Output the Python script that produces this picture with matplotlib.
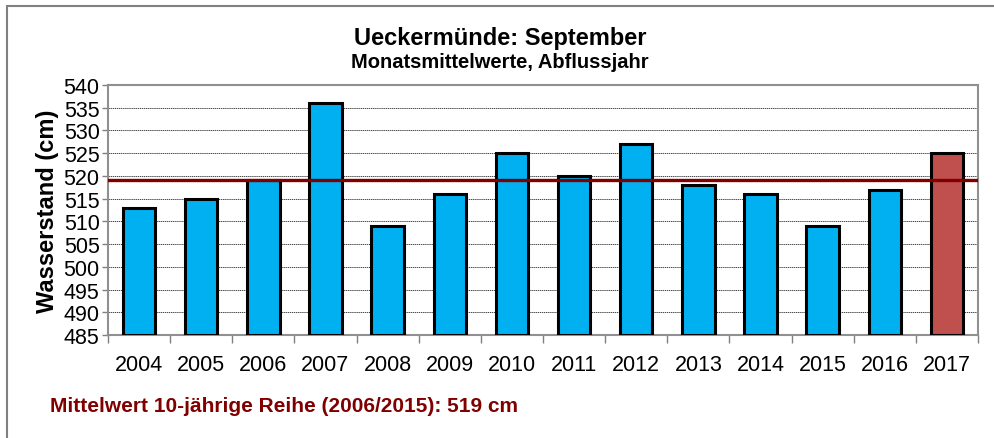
import matplotlib
import matplotlib.pyplot as plt
from matplotlib.patches import Rectangle
matplotlib.use('Agg')

years = ["2004", "2005", "2006", "2007", "2008", "2009", "2010",
         "2011", "2012", "2013", "2014", "2015", "2016", "2017"]
levels = [513, 515, 519, 536, 509, 516, 525, 520, 527, 518, 516, 509, 517, 525]
mean_10y = 519
y_ticks = list(range(485, 545, 5))


def plot_pegel():
    """plot_pegel"""
    plt.rcParams['font.family'] = ['Liberation Sans', 'DejaVu Sans']
    fig = plt.figure(figsize=(9.95, 4.39), dpi=100)
    ax = fig.add_axes([108 / 995, 1 - 336 / 439, 870 / 995, 250 / 439])

    base = y_ticks[0]
    colors = ["#00B0F0"] * (len(years) - 1) + ["#C0504D"]
    ax.bar(range(len(years)), [v - base for v in levels], bottom=base,
           width=0.52, color=colors, edgecolor="black", linewidth=2.2,
           zorder=3)
    ax.axhline(mean_10y, color="#800000", linewidth=2.4, zorder=4)

    ax.set_xlim(-0.5, len(years) - 0.5)
    ax.set_ylim(485, 540)
    ax.set_yticks(y_ticks)
    ax.set_xticks(range(len(years)))
    ax.set_xticklabels(years)
    ax.set_xticks([i + 0.5 for i in range(-1, len(years))], minor=True)
    ax.tick_params(axis="x", which="major", length=0, pad=14, labelsize=15.5)
    ax.tick_params(axis="x", which="minor", length=6, width=1, color="#808080")
    ax.tick_params(axis="y", length=4, width=1, color="#808080",
                   labelsize=15.5, pad=2)
    ax.yaxis.grid(True, color="black", linestyle=(0, (2, 1)), linewidth=0.5,
                  zorder=0)
    for s in ax.spines.values():
        s.set_color("#909090")
        s.set_linewidth(1.5)

    ax.set_ylabel("Wasserstand (cm)", fontsize=17, fontweight="bold",
                  labelpad=3)
    fig.text(0.5025, 1 - 38 / 439, "Ueckermünde: September", ha="center",
             va="center", fontsize=17, fontweight="bold")
    fig.text(0.5025, 1 - 63 / 439, "Monatsmittelwerte, Abflussjahr",
             ha="center", va="center", fontsize=14.5, fontweight="bold")
    fig.text(50 / 995, 1 - 407 / 439,
             "Mittelwert 10-jährige Reihe (2006/2015): 519 cm",
             ha="left", va="center", fontsize=15, fontweight="bold",
             color="#800000")

    fig.patches.append(Rectangle((7 / 995, -0.1), 1.1, (1 - 7 / 439) + 0.1,
                                 transform=fig.transFigure, fill=False,
                                 edgecolor="#808080", linewidth=1.5))
    fig.savefig("out.png", dpi=100)


if __name__ == "__main__":
    plot_pegel()
